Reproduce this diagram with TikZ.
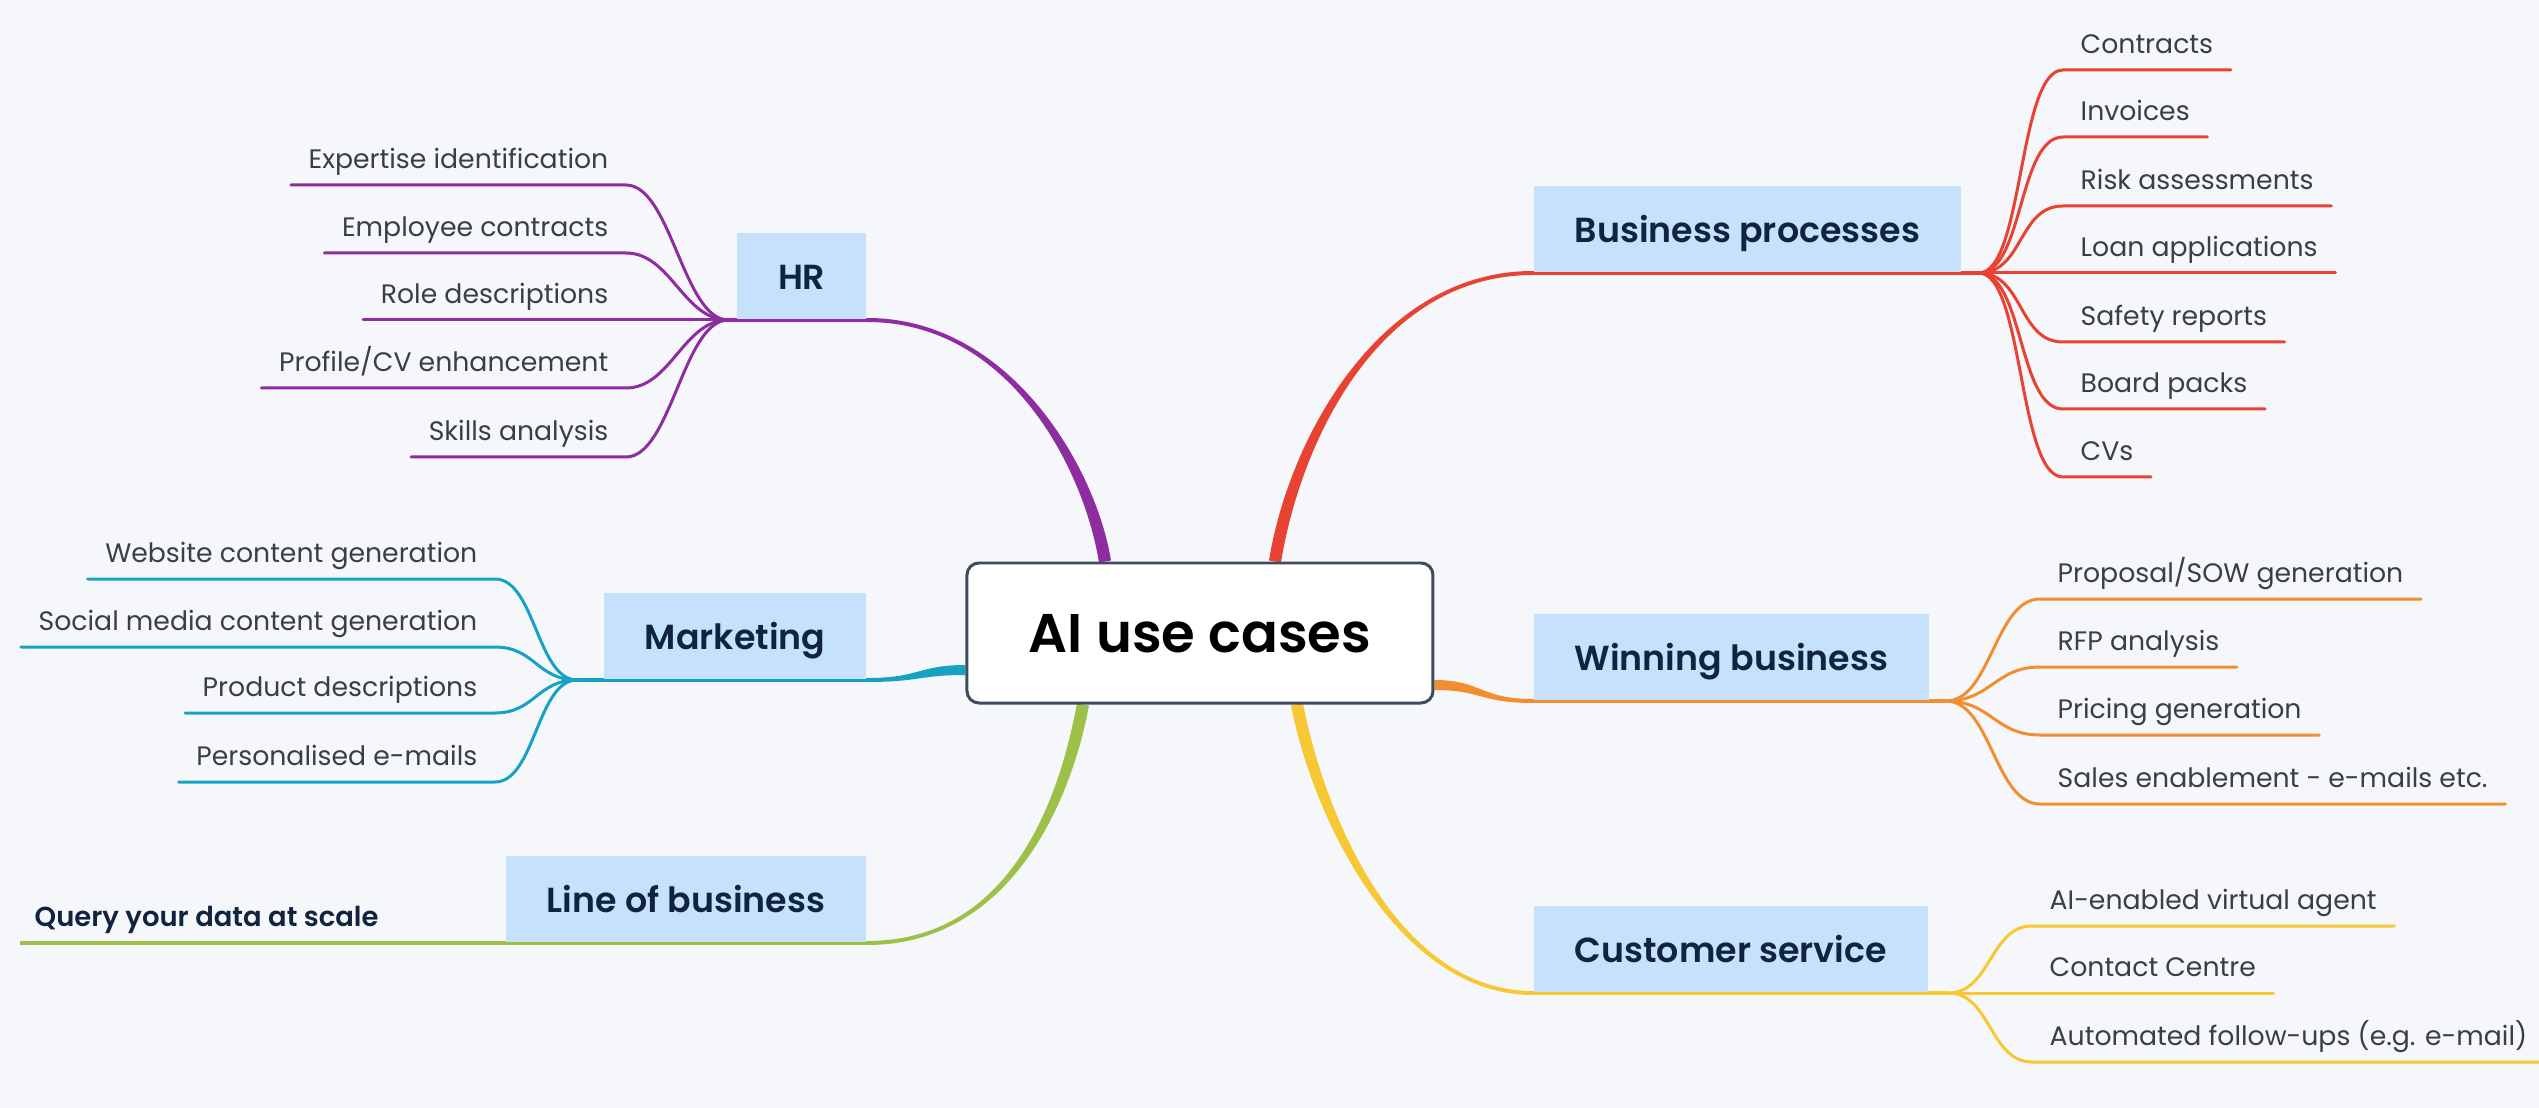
\documentclass[tikz,border=0pt]{standalone}
\usepackage{fontspec}
\setmainfont{Poppins}[BoldFont={Poppins SemiBold}]
\usetikzlibrary{positioning,backgrounds,calc}
\definecolor{mist}{RGB}{246, 247, 251}
\definecolor{slate}{RGB}{62, 75, 94}
\definecolor{ink}{RGB}{16, 36, 64}
\definecolor{graphite}{RGB}{58, 62, 72}
\definecolor{skyblue}{RGB}{197, 225, 251}
\definecolor{amethyst}{RGB}{142, 45, 160}
\definecolor{cinnabar}{RGB}{232, 66, 50}
\definecolor{cerulean}{RGB}{22, 162, 196}
\definecolor{pistachio}{RGB}{156, 192, 72}
\definecolor{tangerine}{RGB}{242, 142, 48}
\definecolor{sunflower}{RGB}{248, 200, 52}

\begin{document}
\begin{tikzpicture}[
    hub/.style   = {draw=slate, line width=0.03cm, fill=white, rounded corners=0.12cm,
                    minimum width=4.66cm, minimum height=1.40cm, text height=0.38cm, text depth=0pt,
                    font=\fontsize{15.5}{18}\selectfont\bfseries},
    topic/.style = {fill=skyblue, text=ink, inner xsep=0.41cm, minimum height=0.86cm,
                    text height=0.26cm, text depth=0pt, font=\fontsize{9.9}{12}\selectfont\bfseries},
    leaf/.style  = {text=graphite, inner xsep=0.17cm, inner ysep=0.16cm, text depth=0pt,
                    font=\fontsize{7.6}{9}\selectfont},
    bar/.style   = {line width=0.04cm},
    twig/.style  = {line width=0.03cm, line cap=round}]
    \useasboundingbox (-12.00, 6.33) rectangle (13.39,-4.75);

    % centre and topics
    \node[hub]                      (ai)  at ( 0.00, 0.00) {AI use cases};
    \node[topic, anchor=south east] (hr)  at (-3.33, 3.13) {HR};
    \node[topic, anchor=south east] (mkt) at (-3.33,-0.47) {Marketing};
    \node[topic, anchor=south east] (lob) at (-3.33,-3.10) {Line of business};
    \node[topic, anchor=south west] (bp)  at ( 3.33, 3.60) {Business processes};
    \node[topic, anchor=south west] (win) at ( 3.33,-0.68) {Winning business};
    \node[topic, anchor=south west] (cs)  at ( 3.33,-3.60) {Customer service};

    \coordinate[left=0.08cm of hr.south west]   (hrj);
    \coordinate[left=0.26cm of mkt.south west]  (mktj);
    \coordinate[right=0.17cm of bp.south east]  (bpj);
    \coordinate[right=0.16cm of win.south east] (winj);
    \coordinate[right=0.20cm of cs.south east]  (csj);

    % leaves
    \node[leaf, anchor=south east] (hr1)  at (-5.74, 4.48) {Expertise identification};
    \node[leaf, anchor=south east] (hr2)  at (-5.74, 3.80) {Employee contracts};
    \node[leaf, anchor=south east] (hr3)  at (-5.74, 3.13) {Role descriptions};
    \node[leaf, anchor=south east] (hr4)  at (-5.74, 2.45) {Profile/CV enhancement};
    \node[leaf, anchor=south east] (hr5)  at (-5.74, 1.76) {Skills analysis};

    \node[leaf, anchor=south east] (mkt1) at (-7.05, 0.54) {Website content generation};
    \node[leaf, anchor=south east] (mkt2) at (-7.05,-0.14) {Social media content generation};
    \node[leaf, anchor=south east] (mkt3) at (-7.05,-0.80) {Product descriptions};
    \node[leaf, anchor=south east] (mkt4) at (-7.05,-1.49) {Personalised e-mails};

    \node[leaf, anchor=south west, text=ink, inner xsep=0.14cm, font=\fontsize{7.8}{10}\selectfont\bfseries]
                                   (lob1) at (-11.80,-3.10) {Query your data at scale};

    \node[leaf, anchor=south west] (bp1)  at ( 8.63, 5.63) {Contracts};
    \node[leaf, anchor=south west] (bp2)  at ( 8.63, 4.96) {Invoices};
    \node[leaf, anchor=south west] (bp3)  at ( 8.63, 4.27) {Risk assessments};
    \node[leaf, anchor=south west] (bp4)  at ( 8.63, 3.60) {Loan applications};
    \node[leaf, anchor=south west] (bp5)  at ( 8.63, 2.91) {Safety reports};
    \node[leaf, anchor=south west] (bp6)  at ( 8.63, 2.24) {Board packs};
    \node[leaf, anchor=south west] (bp7)  at ( 8.63, 1.56) {CVs};

    \node[leaf, anchor=south west] (win1) at ( 8.40, 0.34) {Proposal/SOW generation};
    \node[leaf, anchor=south west] (win2) at ( 8.40,-0.34) {RFP analysis};
    \node[leaf, anchor=south west] (win3) at ( 8.40,-1.02) {Pricing generation};
    \node[leaf, anchor=south west] (win4) at ( 8.40,-1.71) {Sales enablement - e-mails etc.};

    \node[leaf, anchor=south west] (cs1)  at ( 8.32,-2.93) {AI-enabled virtual agent};
    \node[leaf, anchor=south west] (cs2)  at ( 8.32,-3.60) {Contact Centre};
    \node[leaf, anchor=south west] (cs3)  at ( 8.32,-4.29) {Automated follow-ups (e.g. e-mail)};

    \begin{scope}[on background layer]
    \fill[mist] (-12.00, 6.33) rectangle (13.39,-4.75);

    % tapered stems from the centre
    \fill[amethyst]  ($(hr.south east)+(0, 0.02)$)  .. controls +(1.43,0) and +(-0.15, 0.93) .. ($(ai.north)+(-0.89, 0.01)$)
                  -- ($(ai.north)+(-1.01,-0.01)$)  .. controls +(-0.15, 0.93) and +(1.43,0) .. ($(hr.south east)+(0,-0.02)$) -- cycle;
    \fill[cerulean]  ($(mkt.south east)+(0, 0.02)$) .. controls +(0.53,0) and +(-0.47, 0.00) .. ($(ai.west)+(0,-0.32)$)
                  -- ($(ai.west)+(0,-0.42)$)       .. controls +(-0.47, 0.00) and +(0.53,0) .. ($(mkt.south east)+(0,-0.02)$) -- cycle;
    \fill[pistachio] ($(lob.south east)+(0,-0.02)$) .. controls +(1.43,0) and +(-0.18,-0.97) .. ($(ai.south)+(-1.11,-0.01)$)
                  -- ($(ai.south)+(-1.23, 0.01)$)  .. controls +(-0.18,-0.97) and +(1.43,0) .. ($(lob.south east)+(0, 0.02)$) -- cycle;
    \fill[cinnabar]  ($(ai.north)+( 0.81,-0.01)$)  .. controls +(0.20, 1.23) and +(-1.53,0) .. ($(bp.south west)+(0,-0.02)$)
                  -- ($(bp.south west)+(0, 0.02)$) .. controls +(-1.53,0) and +(0.20, 1.23) .. ($(ai.north)+( 0.69, 0.01)$) -- cycle;
    \fill[tangerine] ($(ai.east)+(0,-0.47)$)       .. controls +(0.47, 0.00) and +(-0.53,0) .. ($(win.south west)+(0, 0.02)$)
                  -- ($(win.south west)+(0,-0.02)$) .. controls +(-0.53,0) and +(0.47, 0.00) .. ($(ai.east)+(0,-0.57)$) -- cycle;
    \fill[sunflower] ($(ai.south)+( 0.91,-0.01)$)  .. controls +(0.23,-1.17) and +(-1.33,0) .. ($(cs.south west)+(0,-0.02)$)
                  -- ($(cs.south west)+(0, 0.02)$) .. controls +(-1.33,0) and +(0.23,-1.17) .. ($(ai.south)+( 1.03, 0.01)$) -- cycle;

    % topic underlines
    \draw[bar, amethyst]  (hrj)  -- (hr.south east);
    \draw[bar, cerulean]  (mktj) -- (mkt.south east);
    \draw[bar, pistachio] (lob1.south west) -- (lob.south east);
    \draw[bar, cinnabar]  (bp.south west)  -- (bpj);
    \draw[bar, tangerine] (win.south west) -- (winj);
    \draw[bar, sunflower] (cs.south west)  -- (csj);

    % twigs to the leaves
    \draw[twig, amethyst] (hrj) .. controls +(-0.45,0) and +(0.45,0) .. (hr1.south east) -- (hr1.south west);
    \draw[twig, amethyst] (hrj) .. controls +(-0.45,0) and +(0.45,0) .. (hr2.south east) -- (hr2.south west);
    \draw[twig, amethyst] (hrj) .. controls +(-0.45,0) and +(0.45,0) .. (hr3.south east) -- (hr3.south west);
    \draw[twig, amethyst] (hrj) .. controls +(-0.45,0) and +(0.45,0) .. (hr4.south east) -- (hr4.south west);
    \draw[twig, amethyst] (hrj) .. controls +(-0.45,0) and +(0.45,0) .. (hr5.south east) -- (hr5.south west);

    \draw[twig, cerulean] (mktj) .. controls +(-0.40,0) and +(0.40,0) .. (mkt1.south east) -- (mkt1.south west);
    \draw[twig, cerulean] (mktj) .. controls +(-0.40,0) and +(0.40,0) .. (mkt2.south east) -- (mkt2.south west);
    \draw[twig, cerulean] (mktj) .. controls +(-0.40,0) and +(0.40,0) .. (mkt3.south east) -- (mkt3.south west);
    \draw[twig, cerulean] (mktj) .. controls +(-0.40,0) and +(0.40,0) .. (mkt4.south east) -- (mkt4.south west);

    \draw[twig, cinnabar] (bpj) .. controls +(0.45,0) and +(-0.45,0) .. (bp1.south west) -- (bp1.south east);
    \draw[twig, cinnabar] (bpj) .. controls +(0.45,0) and +(-0.45,0) .. (bp2.south west) -- (bp2.south east);
    \draw[twig, cinnabar] (bpj) .. controls +(0.45,0) and +(-0.45,0) .. (bp3.south west) -- (bp3.south east);
    \draw[twig, cinnabar] (bpj) .. controls +(0.45,0) and +(-0.45,0) .. (bp4.south west) -- (bp4.south east);
    \draw[twig, cinnabar] (bpj) .. controls +(0.45,0) and +(-0.45,0) .. (bp5.south west) -- (bp5.south east);
    \draw[twig, cinnabar] (bpj) .. controls +(0.45,0) and +(-0.45,0) .. (bp6.south west) -- (bp6.south east);
    \draw[twig, cinnabar] (bpj) .. controls +(0.45,0) and +(-0.45,0) .. (bp7.south west) -- (bp7.south east);

    \draw[twig, tangerine] (winj) .. controls +(0.45,0) and +(-0.45,0) .. (win1.south west) -- (win1.south east);
    \draw[twig, tangerine] (winj) .. controls +(0.45,0) and +(-0.45,0) .. (win2.south west) -- (win2.south east);
    \draw[twig, tangerine] (winj) .. controls +(0.45,0) and +(-0.45,0) .. (win3.south west) -- (win3.south east);
    \draw[twig, tangerine] (winj) .. controls +(0.45,0) and +(-0.45,0) .. (win4.south west) -- (win4.south east);

    \draw[twig, sunflower] (csj) .. controls +(0.42,0) and +(-0.42,0) .. (cs1.south west) -- (cs1.south east);
    \draw[twig, sunflower] (csj) .. controls +(0.42,0) and +(-0.42,0) .. (cs2.south west) -- (cs2.south east);
    \draw[twig, sunflower] (csj) .. controls +(0.42,0) and +(-0.42,0) .. (cs3.south west) -- (cs3.south east);
    \end{scope}
\end{tikzpicture}
\end{document}
